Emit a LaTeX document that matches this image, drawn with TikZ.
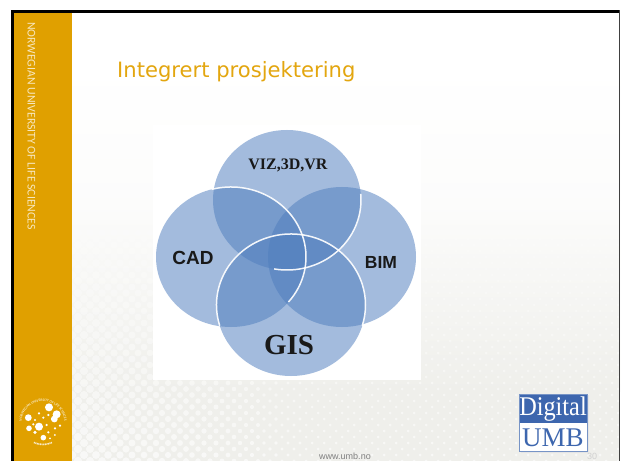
\documentclass[tikz,border=0pt]{standalone}
\usepackage{fontspec}
\setmainfont{Liberation Sans}
\newfontfamily\serifface{Liberation Serif}
\newfontfamily\titleface{DejaVu Sans}
\newfontfamily\sideface{Carlito}
\usetikzlibrary{decorations.text}
\definecolor{gold}{HTML}{E0A000}
\definecolor{titlegold}{HTML}{E3A60F}
\definecolor{vennblue}{HTML}{4F7EBE}
\definecolor{bggray}{HTML}{EFEFEB}
\definecolor{umbblue}{HTML}{3D66AE}
\tikzset{
  venn/.style={fill=vennblue,fill opacity=.52,draw=none},
  vennarc/.style={draw=white,line width=1.5pt,opacity=.92},
  vennlabel/.style={text=black!90,anchor=center,inner sep=0pt},
  logodot/.style={fill=white,draw=none}
}
\begin{document}
\begin{tikzpicture}[x=1pt,y=1pt]
\useasboundingbox (0,0) rectangle (621,461);
\fill[white] (0,0) rectangle (621,461);
% slide background
\fill[bottom color=bggray!18,top color=white] (14,260) rectangle (620,400);
\fill[bottom color=bggray,top color=bggray!18] (14,70) rectangle (620,260);
\fill[bggray] (14,0) rectangle (620,70);
\begin{scope}
\clip (72,0) rectangle (620,320);
\foreach \r in {0,...,53}{
  \pgfmathsetmacro{\op}{max(0.02,.62-\r/85)}
  \pgfmathsetmacro{\off}{mod(\r,2)*6}
  \foreach \c in {0,...,46}{
    \pgfmathsetmacro{\xx}{66+\c*12+\off}
    \pgfmathsetmacro{\rad}{max(1.5,4.2-(\xx-72)/85)}
    \fill[white,opacity=\op] (\xx,\r*6) circle[radius=\rad pt];
  }
}
\end{scope}
% frame and band
\fill[gold] (14,0) rectangle (72,449);
\fill[black] (11,0) rectangle (14,451);
\fill[black] (11,448) rectangle (620,451);
\fill[black!75] (619.2,0) rectangle (620.2,451);
% white picture panel
\fill[white] (153,81) rectangle (421,336);
% venn
\fill[venn] (287,261) ellipse[x radius=74,y radius=70];
\fill[venn] (231,204) ellipse[x radius=75,y radius=70];
\fill[venn] (342,204) ellipse[x radius=74,y radius=70];
\fill[venn] (291,156) ellipse[x radius=74.5,y radius=71];
\draw[vennarc] (231,204) ++(105:75 and 70) arc[start angle=105,end angle=-40,x radius=75,y radius=70];
\draw[vennarc] (287,261) ++(5:74 and 70) arc[start angle=5,end angle=-100,x radius=74,y radius=70];
\draw[vennarc] (291,156) ++(197:74.5 and 71) arc[start angle=197,end angle=-17,x radius=74.5,y radius=71];
\node[vennlabel,font=\serifface\bfseries\fontsize{16}{16}\selectfont] (viz) at (288,296) {VIZ,3D,VR};
\node[vennlabel,font=\bfseries\fontsize{19}{19}\selectfont] (cad) at (193,203) {CAD};
\node[vennlabel,font=\bfseries\fontsize{17.5}{18}\selectfont] (bim) at (381,199) {BIM};
\node[vennlabel,font=\serifface\bfseries\fontsize{29}{29}\selectfont] (gis) at (289,116) {GIS};
% title and side text
\node[anchor=base west,inner sep=0pt,text=titlegold,font=\titleface\fontsize{21.1}{22}\selectfont] (title) at (117,383) {Integrert prosjektering};
\node[rotate=-90,anchor=center,inner sep=0pt,text=gold!25,font=\sideface\fontsize{11.8}{12}\selectfont] (side) at (31.5,335) {NORWEGIAN UNIVERSITY OF LIFE SCIENCES};
% footer
\node[anchor=center,inner sep=0pt,text=black!50,font=\fontsize{9}{10}\selectfont] (www) at (345,4.5) {www.umb.no};
\node[anchor=center,inner sep=0pt,text=black!18,font=\fontsize{9}{10}\selectfont] (page) at (592,4.5) {30};
% university seal
\begin{scope}[shift={(15,66)},x=.3333pt,y=-.3333pt]
\foreach \a/\b/\s in {102/37/4,125/58/4,118/72/3.4,40/68/3.4,72/95/4,42/100/2.8,60/112/1.8,85/128/2.8,60/75/1.2,85/68/1.2,72/55/1.2,100/60/1.2,95/90/1.2,100/112/1.2,120/100/1.2,135/92/1.2,55/88/1.2,105/130/1,120/120/1}{
  \fill[logodot] (\a,\b) circle[radius=\s pt];
}
\end{scope}
\path[postaction={decorate},decoration={text along path,text align=center,
  text={|\sideface\fontsize{3.6}{4}\selectfont\color{white}|NORWEGIAN UNIVERSITY OF LIFE SCIENCES}}]
  (43,38) ++(205:21.5) arc[start angle=205,end angle=-25,radius=21.5];
\draw[white,line width=1.6pt,dash pattern=on 1pt off .6pt,opacity=.8] (43,38) ++(-115:21.5) arc[start angle=-115,end angle=-65,radius=21.5];
% Digital UMB logo
\fill[black!10] (521,8) rectangle (589,66);
\fill[white] (519.5,10) rectangle (587,67);
\fill[umbblue] (519.5,38) rectangle (587,67);
\draw[umbblue!70,line width=.6pt] (519.5,10) rectangle (587,67);
\node[anchor=base,inner sep=0pt,text=white,xscale=.9,font=\serifface\fontsize{27}{27}\selectfont] (digital) at (553,46) {Digital};
\node[anchor=base,inner sep=0pt,text=umbblue,font=\serifface\fontsize{27}{27}\selectfont] (umb) at (553,15) {UMB};
\end{tikzpicture}
\end{document}
